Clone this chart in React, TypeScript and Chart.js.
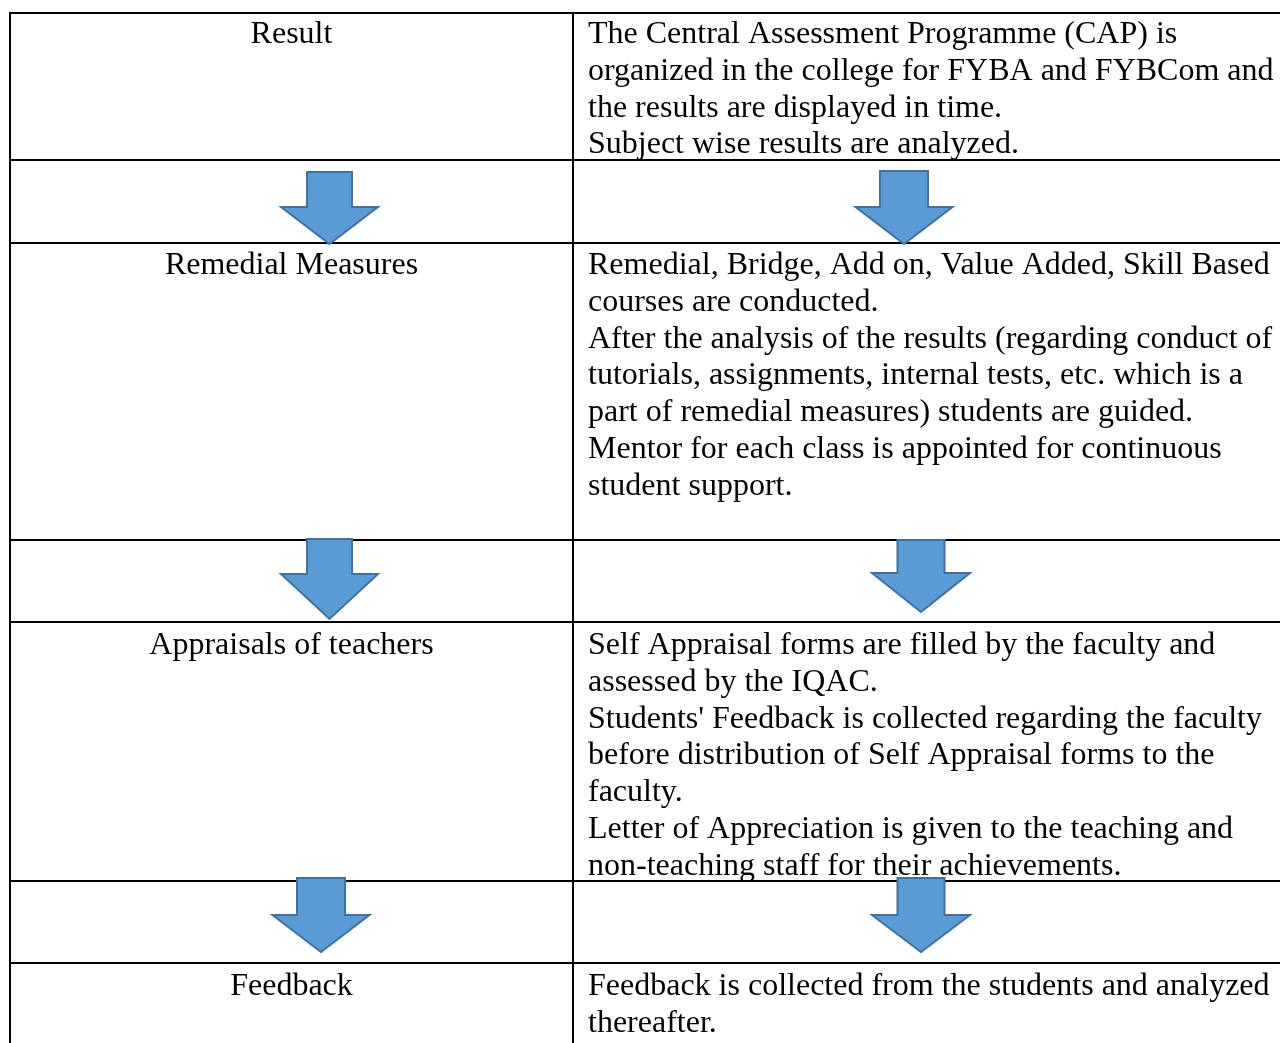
import React, { useEffect, useRef } from "react";
import { Chart, registerables } from "chart.js";

Chart.register(...registerables);

// ---- content (data) ----
const stepLabels: string[] = ["Result", "Remedial Measures", "Appraisals of teachers", "Feedback"];

const resultLines: string[] = [
  "The Central Assessment Programme (CAP) is",
  "organized in the college for FYBA and FYBCom and",
  "the results are displayed in time.",
  "Subject wise results are analyzed.",
];
const remedialLines: string[] = [
  "Remedial, Bridge, Add on, Value Added, Skill Based",
  "courses are conducted.",
  "After the analysis of the results (regarding conduct of",
  "tutorials, assignments, internal tests, etc. which is a",
  "part of remedial measures) students are guided.",
  "Mentor for each class is appointed for continuous",
  "student support.",
];
const appraisalLines: string[] = [
  "Self Appraisal forms are filled by the faculty and",
  "assessed by the IQAC.",
  "Students' Feedback is collected regarding the faculty",
  "before distribution of Self Appraisal forms to the",
  "faculty.",
  "Letter of Appreciation is given to the teaching and",
  "non-teaching staff for their achievements.",
];
const feedbackLines: string[] = [
  "Feedback is collected from the students and analyzed",
  "thereafter.",
];
const stepDetails: string[][] = [resultLines, remedialLines, appraisalLines, feedbackLines];

// ---- layout (positions, in scale units) ----
const W = 1280;
const H = 1043;
const LAYOUT = {
  leftX: 10,
  midX: 573,
  textRows: [13, 243, 622, 963],
  textOffsets: [30, 31, 32, 32],
  allRows: [13, 160, 243, 540, 622, 881, 963],
  lineHeight: 36.8,
  padLeft: 15,
  // arrows: [cx, top, headY, tip, shaftHalf, headHalf]
  arrows: [
    [329.5, 172, 207, 244, 22.5, 48.5],
    [904, 171, 207, 244, 24, 48.5],
    [329.5, 539, 574, 619, 22.5, 48.5],
    [921, 540, 573, 612, 23.5, 49],
    [321, 878, 915, 952, 24, 48.5],
    [921, 878, 915, 952, 23.5, 49],
  ],
};
const FONT = "32px 'Liberation Serif', 'Times New Roman', serif";

const tablePlugin = {
  id: "tablePlugin",
  afterDatasetsDraw(chart: any) {
    const ctx: CanvasRenderingContext2D = chart.ctx;
    const xs = chart.scales.x;
    const ys = chart.scales.y;
    const px = (v: number) => xs.getPixelForValue(v);
    const py = (v: number) => ys.getPixelForValue(v);
    ctx.save();
    // background
    ctx.fillStyle = "#ffffff";
    ctx.fillRect(px(0), py(0), px(W) - px(0), py(H) - py(0));

    // grid lines
    ctx.strokeStyle = "#000000";
    ctx.lineWidth = 2;
    ctx.beginPath();
    for (const r of LAYOUT.allRows) {
      ctx.moveTo(px(LAYOUT.leftX - 1), py(r));
      ctx.lineTo(px(W), py(r));
    }
    ctx.moveTo(px(LAYOUT.leftX), py(LAYOUT.allRows[0]));
    ctx.lineTo(px(LAYOUT.leftX), py(H));
    ctx.moveTo(px(LAYOUT.midX), py(LAYOUT.allRows[0]));
    ctx.lineTo(px(LAYOUT.midX), py(H));
    ctx.stroke();

    // text
    ctx.fillStyle = "#000000";
    ctx.font = FONT;
    ctx.textBaseline = "alphabetic";
    stepLabels.forEach((label, i) => {
      const base = LAYOUT.textRows[i] + LAYOUT.textOffsets[i];
      ctx.textAlign = "center";
      ctx.fillText(label, px((LAYOUT.leftX + LAYOUT.midX) / 2), py(base));
      ctx.textAlign = "left";
      stepDetails[i].forEach((line, j) => {
        ctx.fillText(line, px(LAYOUT.midX + LAYOUT.padLeft), py(base + j * LAYOUT.lineHeight));
      });
    });

    // arrows
    ctx.fillStyle = "#5B9BD5";
    ctx.strokeStyle = "#41719C";
    ctx.lineWidth = 2;
    ctx.lineJoin = "miter";
    for (const a of LAYOUT.arrows) {
      const [cx, top, headY, tip, sh, hh] = a;
      ctx.beginPath();
      ctx.moveTo(px(cx - sh), py(top));
      ctx.lineTo(px(cx + sh), py(top));
      ctx.lineTo(px(cx + sh), py(headY));
      ctx.lineTo(px(cx + hh), py(headY));
      ctx.lineTo(px(cx), py(tip));
      ctx.lineTo(px(cx - hh), py(headY));
      ctx.lineTo(px(cx - sh), py(headY));
      ctx.closePath();
      ctx.fill();
      ctx.stroke();
    }
    ctx.restore();
  },
};

export default function App() {
  const ref = useRef<HTMLCanvasElement | null>(null);
  useEffect(() => {
    const prevMargin = document.body.style.margin;
    document.body.style.margin = "0";
    const canvas = ref.current;
    if (!canvas) return;
    const chart = new Chart(canvas, {
      type: "scatter",
      data: { datasets: [{ data: [], pointRadius: 0 }] },
      options: {
        animation: false,
        responsive: false,
        devicePixelRatio: 1,
        layout: { padding: 0 },
        plugins: { legend: { display: false }, tooltip: { enabled: false } },
        scales: {
          x: { type: "linear", min: 0, max: W, display: false },
          y: { type: "linear", min: 0, max: H, reverse: true, display: false },
        },
      },
      plugins: [tablePlugin],
    });
    return () => {
      chart.destroy();
      document.body.style.margin = prevMargin;
    };
  }, []);
  return (
    <div style={{ width: W, height: H, background: "#fff" }}>
      <canvas ref={ref} width={W} height={H} style={{ display: "block", width: W, height: H }} />
    </div>
  );
}
